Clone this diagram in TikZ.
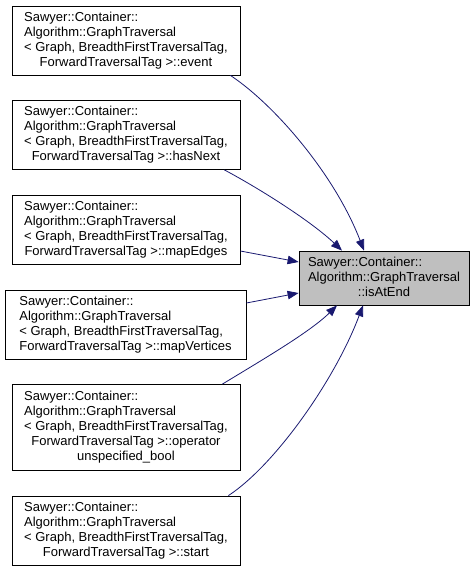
\documentclass[tikz,border=0pt]{standalone}
\usepackage{fontspec}
\setmainfont{Liberation Sans}
\usetikzlibrary{arrows.meta}
\definecolor{edgeblue}{HTML}{191970}
\definecolor{rootfill}{HTML}{BFBFBF}
\begin{document}
\begin{tikzpicture}[x=1pt,y=-1pt,
  box/.style={draw=black, line width=0.8pt, fill=white, inner sep=0pt,
    minimum width=228pt, minimum height=69pt, font=\fontsize{13}{15}\selectfont},
  rootbox/.style={box, fill=rootfill, minimum width=170pt, minimum height=54pt},
  edge/.style={draw=edgeblue, line width=0.8pt, -{Triangle[length=11pt,width=8.5pt]}}]
\useasboundingbox (0,0) rectangle (475,571);

\node[box] (b1) at (126,40.5) {\begin{tabular}{@{}l@{}}Sawyer::Container::\\Algorithm::GraphTraversal\\< Graph, BreadthFirstTraversalTag,\\\multicolumn{1}{@{}c@{}}{ForwardTraversalTag >::event}\end{tabular}};
\node[box] (b2) at (126,135) {\begin{tabular}{@{}l@{}}Sawyer::Container::\\Algorithm::GraphTraversal\\< Graph, BreadthFirstTraversalTag,\\\multicolumn{1}{@{}c@{}}{ForwardTraversalTag >::hasNext}\end{tabular}};
\node[box] (b3) at (126,229.5) {\begin{tabular}{@{}l@{}}Sawyer::Container::\\Algorithm::GraphTraversal\\< Graph, BreadthFirstTraversalTag,\\\multicolumn{1}{@{}c@{}}{ForwardTraversalTag >::mapEdges}\end{tabular}};
\node[box, minimum width=241pt] (b4) at (125.5,324.5) {\begin{tabular}{@{}l@{}}Sawyer::Container::\\Algorithm::GraphTraversal\\< Graph, BreadthFirstTraversalTag,\\\multicolumn{1}{@{}c@{}}{ForwardTraversalTag >::mapVertices}\end{tabular}};
\node[box, minimum height=86pt] (b5) at (126,427.5) {\begin{tabular}{@{}l@{}}Sawyer::Container::\\Algorithm::GraphTraversal\\< Graph, BreadthFirstTraversalTag,\\\multicolumn{1}{@{}c@{}}{ForwardTraversalTag >::operator}\\\multicolumn{1}{@{}c@{}}{unspecified\_bool}\end{tabular}};
\node[box] (b6) at (126,530.5) {\begin{tabular}{@{}l@{}}Sawyer::Container::\\Algorithm::GraphTraversal\\< Graph, BreadthFirstTraversalTag,\\\multicolumn{1}{@{}c@{}}{ForwardTraversalTag >::start}\end{tabular}};

\node[rootbox] (root) at (384,278) {\begin{tabular}{@{}l@{}}Sawyer::Container::\\Algorithm::GraphTraversal\\\multicolumn{1}{@{}c@{}}{::isAtEnd}\end{tabular}};

\draw[edge] ([xshift=-10pt]b1.south east) .. controls (275,105) and (335,175) .. ([xshift=-20pt]root.north);
\draw[edge] ([xshift=-16pt]b2.south east) .. controls (262,190) and (312,222) .. ([xshift=-42pt]root.north);
\draw[edge] ([yshift=-21.5pt]b3.east) -- ([yshift=16pt]root.west);
\draw[edge] ([yshift=21.5pt]b4.east) -- ([yshift=-15pt]root.west);
\draw[edge] ([xshift=-18pt]b5.north east) .. controls (262,360) and (310,332) .. ([xshift=-47pt]root.south);
\draw[edge] ([xshift=-12pt]b6.north east) .. controls (275,465) and (335,380) .. ([xshift=-21pt]root.south);
\end{tikzpicture}
\end{document}
